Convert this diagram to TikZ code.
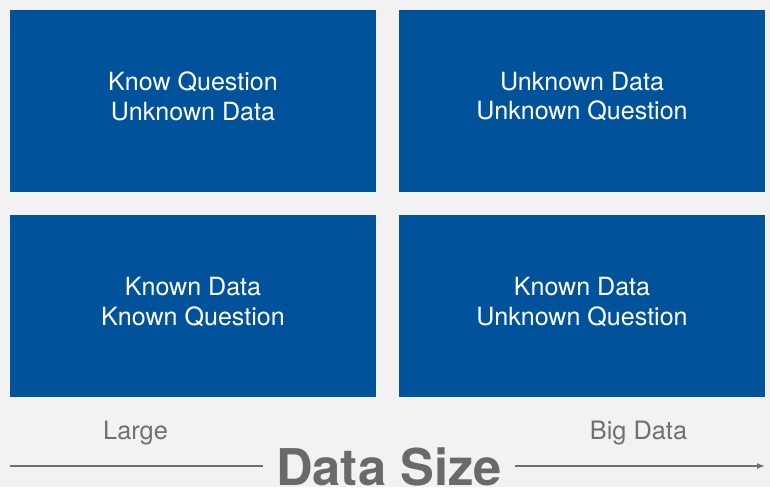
\documentclass[tikz,border=0pt]{standalone}
\usepackage{fontspec}
\setmainfont{TeX Gyre Heros}
\usetikzlibrary{arrows.meta,positioning,calc}
\definecolor{DszBlue}{RGB}{0,83,155}
\definecolor{DszBack}{RGB}{242,242,242}
\definecolor{DszGray}{RGB}{112,112,112}
\definecolor{DszDark}{RGB}{106,106,106}
\tikzset{
  dsz/box/.style={
    fill=DszBlue,
    draw=none,
    align=center,
    text=white,
    minimum width=274.5pt,
    minimum height=136.5pt,
    inner sep=0pt,
    font=\fontsize{18.8}{22.2}\selectfont,
    execute at end node={\rule[-7pt]{0pt}{0pt}}
  },
  dsz/label/.style={font=\fontsize{19}{22}\selectfont, text=DszGray, anchor=base},
  dsz/title/.style={font=\fontsize{38}{41}\selectfont\bfseries, text=DszDark, anchor=base, inner xsep=10pt, inner ysep=0pt},
  dsz/line/.style={line width=1.1pt, draw=DszGray},
  dsz/arrow/.style={-{Latex[length=6pt,width=4.5pt]}, line width=1.1pt, draw=DszGray}
}
\begin{document}
\begin{tikzpicture}[x=0.75pt,y=-0.75pt]
  \fill[DszBack] (0,0) rectangle (770,487);
  \useasboundingbox (0,0) rectangle (770,487);
  \node[dsz/box] (kq) at (193,100.5) {Know Question\\Unknown Data};
  \node[dsz/box] (ud) at (582,100.5) {Unknown Data\\Unknown Question};
  \node[dsz/box] (kd) at (193,306) {Known Data\\Known Question};
  \node[dsz/box] (ku) at (582,306) {Known Data\\Unknown Question};
  \node[dsz/label] (large) at (135.5,439) {Large};
  \node[dsz/label] (big) at (638.5,439) {Big Data};
  \node[dsz/title] (size) at (389,485) {Data Size};
  \coordinate (lstart) at (10,466);
  \coordinate (rend) at (765,466);
  \draw[dsz/line] (lstart) -- (lstart -| size.west);
  \draw[dsz/arrow] (rend -| size.east) -- (rend);
\end{tikzpicture}
\end{document}
